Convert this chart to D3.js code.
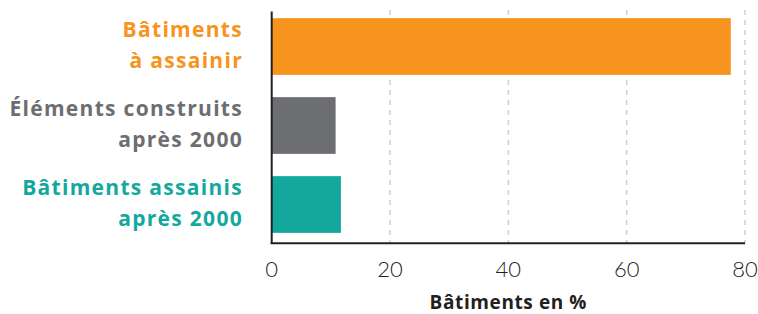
<!DOCTYPE html>
<html>
<head>
<meta charset="utf-8">
<script src="https://cdn.jsdelivr.net/npm/d3@7.9.0/dist/d3.min.js"></script>
<style>
  body { margin: 0; background: #fff; }
  svg { display: block; font-family: Lato, 'Open Sans', sans-serif; }
  .bold { font-family: 'Open Sans', 'Noto Sans', sans-serif; }
</style>
</head>
<body>
<svg width="758" height="314"></svg>
<script>
const categories = [
  ['Bâtiments', 'à assainir'],
  ['Éléments construits', 'après 2000'],
  ['Bâtiments assainis', 'après 2000']
];
const values = [77.6, 10.8, 11.7];
const colors = ['#f7941d', '#6d6e71', '#13a89e'];
const ticks = [0, 20, 40, 60, 80];

const svg = d3.select('svg');
const x = d3.scaleLinear().domain([0, 80]).range([271.7, 745]);
const y = d3.scaleBand().domain(d3.range(categories.length)).range([7, 244])
  .paddingInner(0.282).paddingOuter(0.141);

// dashed grid
svg.append('g')
  .selectAll('line')
  .data(ticks.filter(t => t > 0))
  .join('line')
  .attr('x1', d => x(d)).attr('x2', d => x(d))
  .attr('y1', 10).attr('y2', 243)
  .attr('stroke', '#cfcfcf')
  .attr('stroke-width', 1.5)
  .attr('stroke-dasharray', '5,5');

// bars
svg.append('g')
  .selectAll('rect')
  .data(values)
  .join('rect')
  .attr('x', x(0))
  .attr('y', (d, i) => y(i))
  .attr('width', d => x(d) - x(0))
  .attr('height', y.bandwidth())
  .attr('fill', (d, i) => colors[i]);

// axes lines
svg.append('line')
  .attr('x1', x(0)).attr('x2', x(0))
  .attr('y1', 11.5).attr('y2', 244)
  .attr('stroke', '#231f20').attr('stroke-width', 2);
svg.append('line')
  .attr('x1', x(0) - 1).attr('x2', x(80))
  .attr('y1', 243.3).attr('y2', 243.3)
  .attr('stroke', '#231f20').attr('stroke-width', 2);

// tick labels
svg.append('g')
  .selectAll('text')
  .data(ticks)
  .join('text')
  .attr('x', d => x(d))
  .attr('y', 276.5)
  .attr('text-anchor', 'middle')
  .attr('font-size', 22)
  .attr('font-weight', 300)
  .attr('fill', '#231f20')
  .text(d => d);

// category labels
const lab = svg.append('g')
  .attr('class', 'bold')
  .selectAll('text')
  .data(categories)
  .join('text')
  .attr('text-anchor', 'end')
  .attr('font-size', 21)
  .attr('font-weight', 700)
  .attr('letter-spacing', 1.3)
  .attr('fill', (d, i) => colors[i]);
lab.selectAll('tspan')
  .data((d, i) => d.map((s, j) => ({ s, i, j })))
  .join('tspan')
  .attr('x', 243)
  .attr('y', d => y(d.i) + y.bandwidth() / 2 - 9.5 + d.j * 30.7)
  .text(d => d.s);

// axis title
svg.append('text')
  .attr('class', 'bold')
  .attr('x', (x(0) + x(80)) / 2)
  .attr('y', 309.3)
  .attr('text-anchor', 'middle')
  .attr('font-size', 19)
  .attr('font-weight', 700)
  .attr('letter-spacing', 0.6)
  .attr('fill', '#231f20')
  .text('Bâtiments en %');
</script>
</body>
</html>
